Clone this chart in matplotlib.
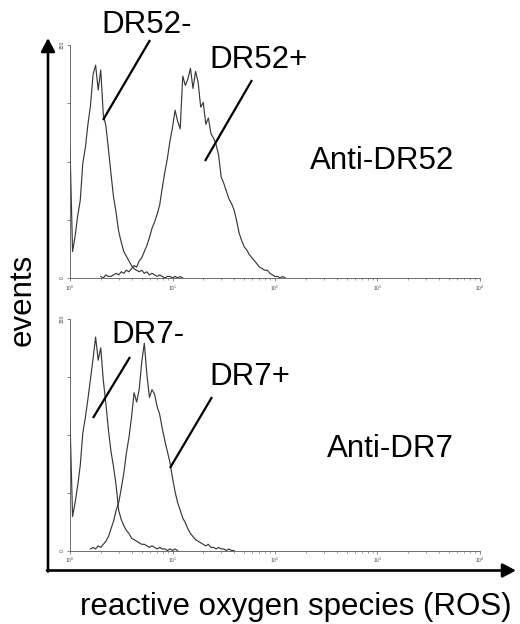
import matplotlib
matplotlib.use('Agg')
import matplotlib.pyplot as plt
import numpy as np

plt.rcParams['font.family'] = ['Liberation Sans', 'DejaVu Sans']

# histogram channels: log10 of fluorescence, one count every 0.025 decade
STEP = 0.025

# top panel (anti-DR52)
dr52_neg_start = 0.0
dr52_neg = [84, 17, 27, 40, 50, 74, 84, 99, 111, 131, 137, 121, 134, 105, 98, 83,
            67, 52, 42, 30, 23, 17, 14, 11, 8, 6, 5, 4, 5, 3, 4, 2, 3, 2, 1, 2,
            1, 0, 1, 1, 0, 1, 0, 1, 0]
dr52_pos_start = 0.3
dr52_pos = [1, 0, 2, 1, 1, 2, 3, 2, 4, 3, 5, 4, 6, 8, 7, 11, 13, 17, 21, 26, 32,
            36, 41, 47, 58, 68, 77, 88, 97, 108, 101, 96, 130, 124, 128, 135, 122,
            133, 126, 110, 113, 99, 103, 93, 90, 86, 79, 65, 61, 56, 51, 48, 44,
            37, 29, 24, 20, 18, 15, 13, 11, 9, 7, 6, 5, 5, 3, 2, 1, 1, 0, 1, 0]

# bottom panel (anti-DR7)
dr7_neg_start = 0.0
dr7_neg = [84, 22, 31, 42, 55, 76, 86, 98, 111, 124, 138, 123, 131, 110, 95, 78,
           64, 54, 42, 26, 20, 16, 13, 11, 8, 7, 6, 5, 4, 4, 3, 2, 3, 2, 1, 2,
           1, 1, 0, 1, 0, 1, 0]
dr7_pos_start = 0.2
dr7_pos = [1, 2, 1, 3, 2, 4, 6, 9, 14, 19, 26, 31, 40, 50, 63, 73, 86, 102, 96,
           104, 122, 134, 114, 99, 104, 101, 93, 88, 79, 71, 64, 57, 47, 38, 31,
           26, 21, 18, 14, 11, 9, 7, 6, 5, 4, 3, 4, 2, 2, 1, 2, 1, 1, 0, 1, 0, 0]

y_ticks = [0, 37.5, 75, 112.5, 150]
y_ticklabels = ['0', '', '', '', '150']

W, H = 520, 624
fig = plt.figure(figsize=(W / 100, H / 100), dpi=100)
fig.patch.set_facecolor('white')


def channels(start, counts):
    return 10 ** (start + STEP * np.arange(len(counts)))


def panel(rect, curves):
    ax = fig.add_axes(rect)
    for start, counts in curves:
        ax.plot(channels(start, counts), counts, color='#383838', lw=0.85)
    ax.set_xscale('log')
    ax.set_xlim(1, 1e4)
    ax.set_ylim(0, 150)
    for s in ('top', 'right'):
        ax.spines[s].set_visible(False)
    for s in ('left', 'bottom'):
        ax.spines[s].set_color('#555555')
        ax.spines[s].set_linewidth(0.6)
    ax.set_yticks(y_ticks)
    ax.set_yticklabels(y_ticklabels, rotation=90, va='center', fontsize=3.5)
    ax.tick_params(axis='both', which='major', length=2.5, width=0.5,
                   color='#555555', labelsize=3.5, pad=1.5, labelcolor='#444444')
    ax.tick_params(axis='x', which='minor', length=1.5, width=0.4, color='#555555')
    ax.set_facecolor('none')
    return ax


def px_rect(left, top, right, bottom):
    return [left / W, 1 - bottom / H, (right - left) / W, (bottom - top) / H]


ax1 = panel(px_rect(70, 45, 480, 278), [(dr52_neg_start, dr52_neg), (dr52_pos_start, dr52_pos)])
ax2 = panel(px_rect(70, 318.5, 480, 550.5), [(dr7_neg_start, dr7_neg), (dr7_pos_start, dr7_pos)])

# overlay in pixel coordinates for the arrows, labels and callouts
ov = fig.add_axes([0, 0, 1, 1], zorder=5)
ov.set_xlim(0, W)
ov.set_ylim(H, 0)
ov.axis('off')
ov.patch.set_visible(False)

arrow = dict(arrowstyle='-|>,head_length=0.8,head_width=0.42', lw=1.9,
             color='black', mutation_scale=10, shrinkA=0, shrinkB=0)
ov.annotate('', xy=(48, 38), xytext=(48, 571.5), arrowprops=arrow)
ov.annotate('', xy=(516, 570.5), xytext=(47, 570.5), arrowprops=arrow)

fs = 22.5
ov.text(23, 300, 'events', rotation=90, fontsize=fs, ha='center', va='center')
ov.text(296, 615, 'reactive oxygen species (ROS)', fontsize=fs, ha='center', va='baseline')

labels = [('DR52-', 101, 33), ('DR52+', 209, 68), ('Anti-DR52', 310, 169),
          ('DR7-', 111, 343), ('DR7+', 209, 385), ('Anti-DR7', 327, 457)]
for txt, x, y in labels:
    ov.text(x, y, txt, fontsize=fs, ha='left', va='baseline')

callouts = [((150, 40), (103, 120)), ((252, 80), (205, 161)),
            ((130, 357), (93, 418)), ((212, 397), (170, 468))]
for (x0, y0), (x1, y1) in callouts:
    ov.plot([x0, x1], [y0, y1], color='black', lw=1.6, solid_capstyle='butt')

fig.savefig('out.png', dpi=100)
